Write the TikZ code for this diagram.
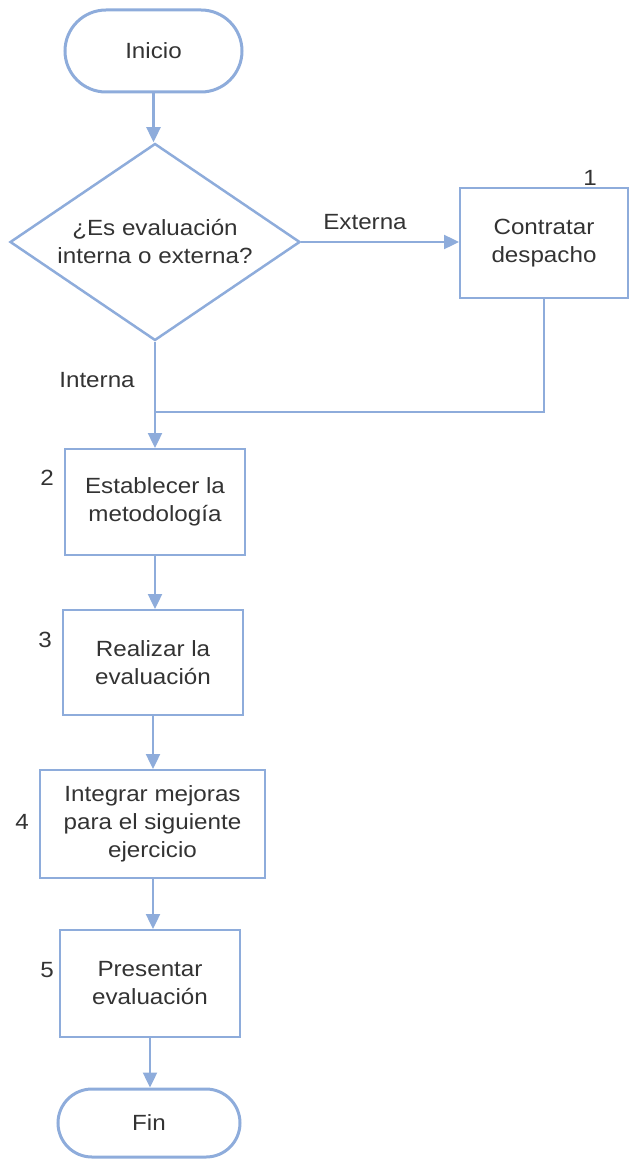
\documentclass[tikz,border=0pt]{standalone}
\usepackage{fontspec}
\setmainfont{Liberation Sans}[FakeStretch=1.1]
\usetikzlibrary{shapes.geometric,arrows.meta}
\definecolor{lineblue}{HTML}{8EACDB}
\definecolor{txt}{HTML}{333333}
\begin{document}
\begin{tikzpicture}[x=1pt,y=1pt,
  every node/.style={text=txt,font=\fontsize{22}{28}\selectfont},
  conn/.style={draw=lineblue,line width=2.4pt},
  arr/.style={conn,-{Triangle[length=15pt,width=14pt]}},
  term/.style={draw=lineblue,line width=3pt,rounded corners=#1,inner sep=0pt,align=center},
  procbox/.style={draw=lineblue,line width=2pt,inner sep=0pt,align=center},
  decbox/.style={draw=lineblue,line width=2.5pt,diamond,inner sep=0pt,aspect=1.47,align=center},
  numlab/.style={inner sep=0pt}]
\useasboundingbox (0,0) rectangle (632,-1161);
\node[term=41pt,minimum width=177pt,minimum height=82pt] (ini) at (153.5,-51) {Inicio};
\node[decbox,minimum width=290pt,minimum height=197pt] (dec) at (155,-242) {¿Es evaluación\\interna o externa?};
\node[procbox,minimum width=168pt,minimum height=110pt] (c1) at (544,-243) {Contratar\\despacho};
\node[procbox,minimum width=180pt,minimum height=106pt] (b2) at (155,-502) {Establecer la\\metodología};
\node[procbox,minimum width=180pt,minimum height=105pt] (b3) at (153,-662.5) {Realizar la\\evaluación};
\node[procbox,minimum width=225pt,minimum height=108pt] (b4) at (152.5,-824) {Integrar mejoras\\para el siguiente\\ejercicio};
\node[procbox,minimum width=180pt,minimum height=107pt] (b5) at (150,-983.5) {Presentar\\evaluación};
\node[term=34pt,minimum width=182pt,minimum height=68pt] (fin) at (149,-1123) {Fin};
\node[numlab] (n1) at (590,-178) {1};
\node[numlab] (n2) at (47,-478) {2};
\node[numlab] (n3) at (45,-640) {3};
\node[numlab] (n4) at (22,-822) {4};
\node[numlab] (n5) at (47,-970) {5};
\node[numlab] (lext) at (365,-222) {Externa};
\node[numlab] (lint) at (97,-380) {Interna};
\coordinate (j) at (155,-412);
\draw[arr] (ini.south) -- (ini.south |- dec.north);
\draw[arr] (dec.east) -- (dec.east -| c1.west);
\draw[arr] (dec.south) -- (dec.south |- b2.north);
\draw[conn] (c1.south) |- (j);
\draw[arr] (b2.south) -- (b2.south |- b3.north);
\draw[arr] (b3.south) -- (b3.south |- b4.north);
\draw[arr] (b4.south -| b3.south) -- (b3.south |- b5.north);
\draw[arr] (b5.south) -- (b5.south |- fin.north);
\end{tikzpicture}
\end{document}
